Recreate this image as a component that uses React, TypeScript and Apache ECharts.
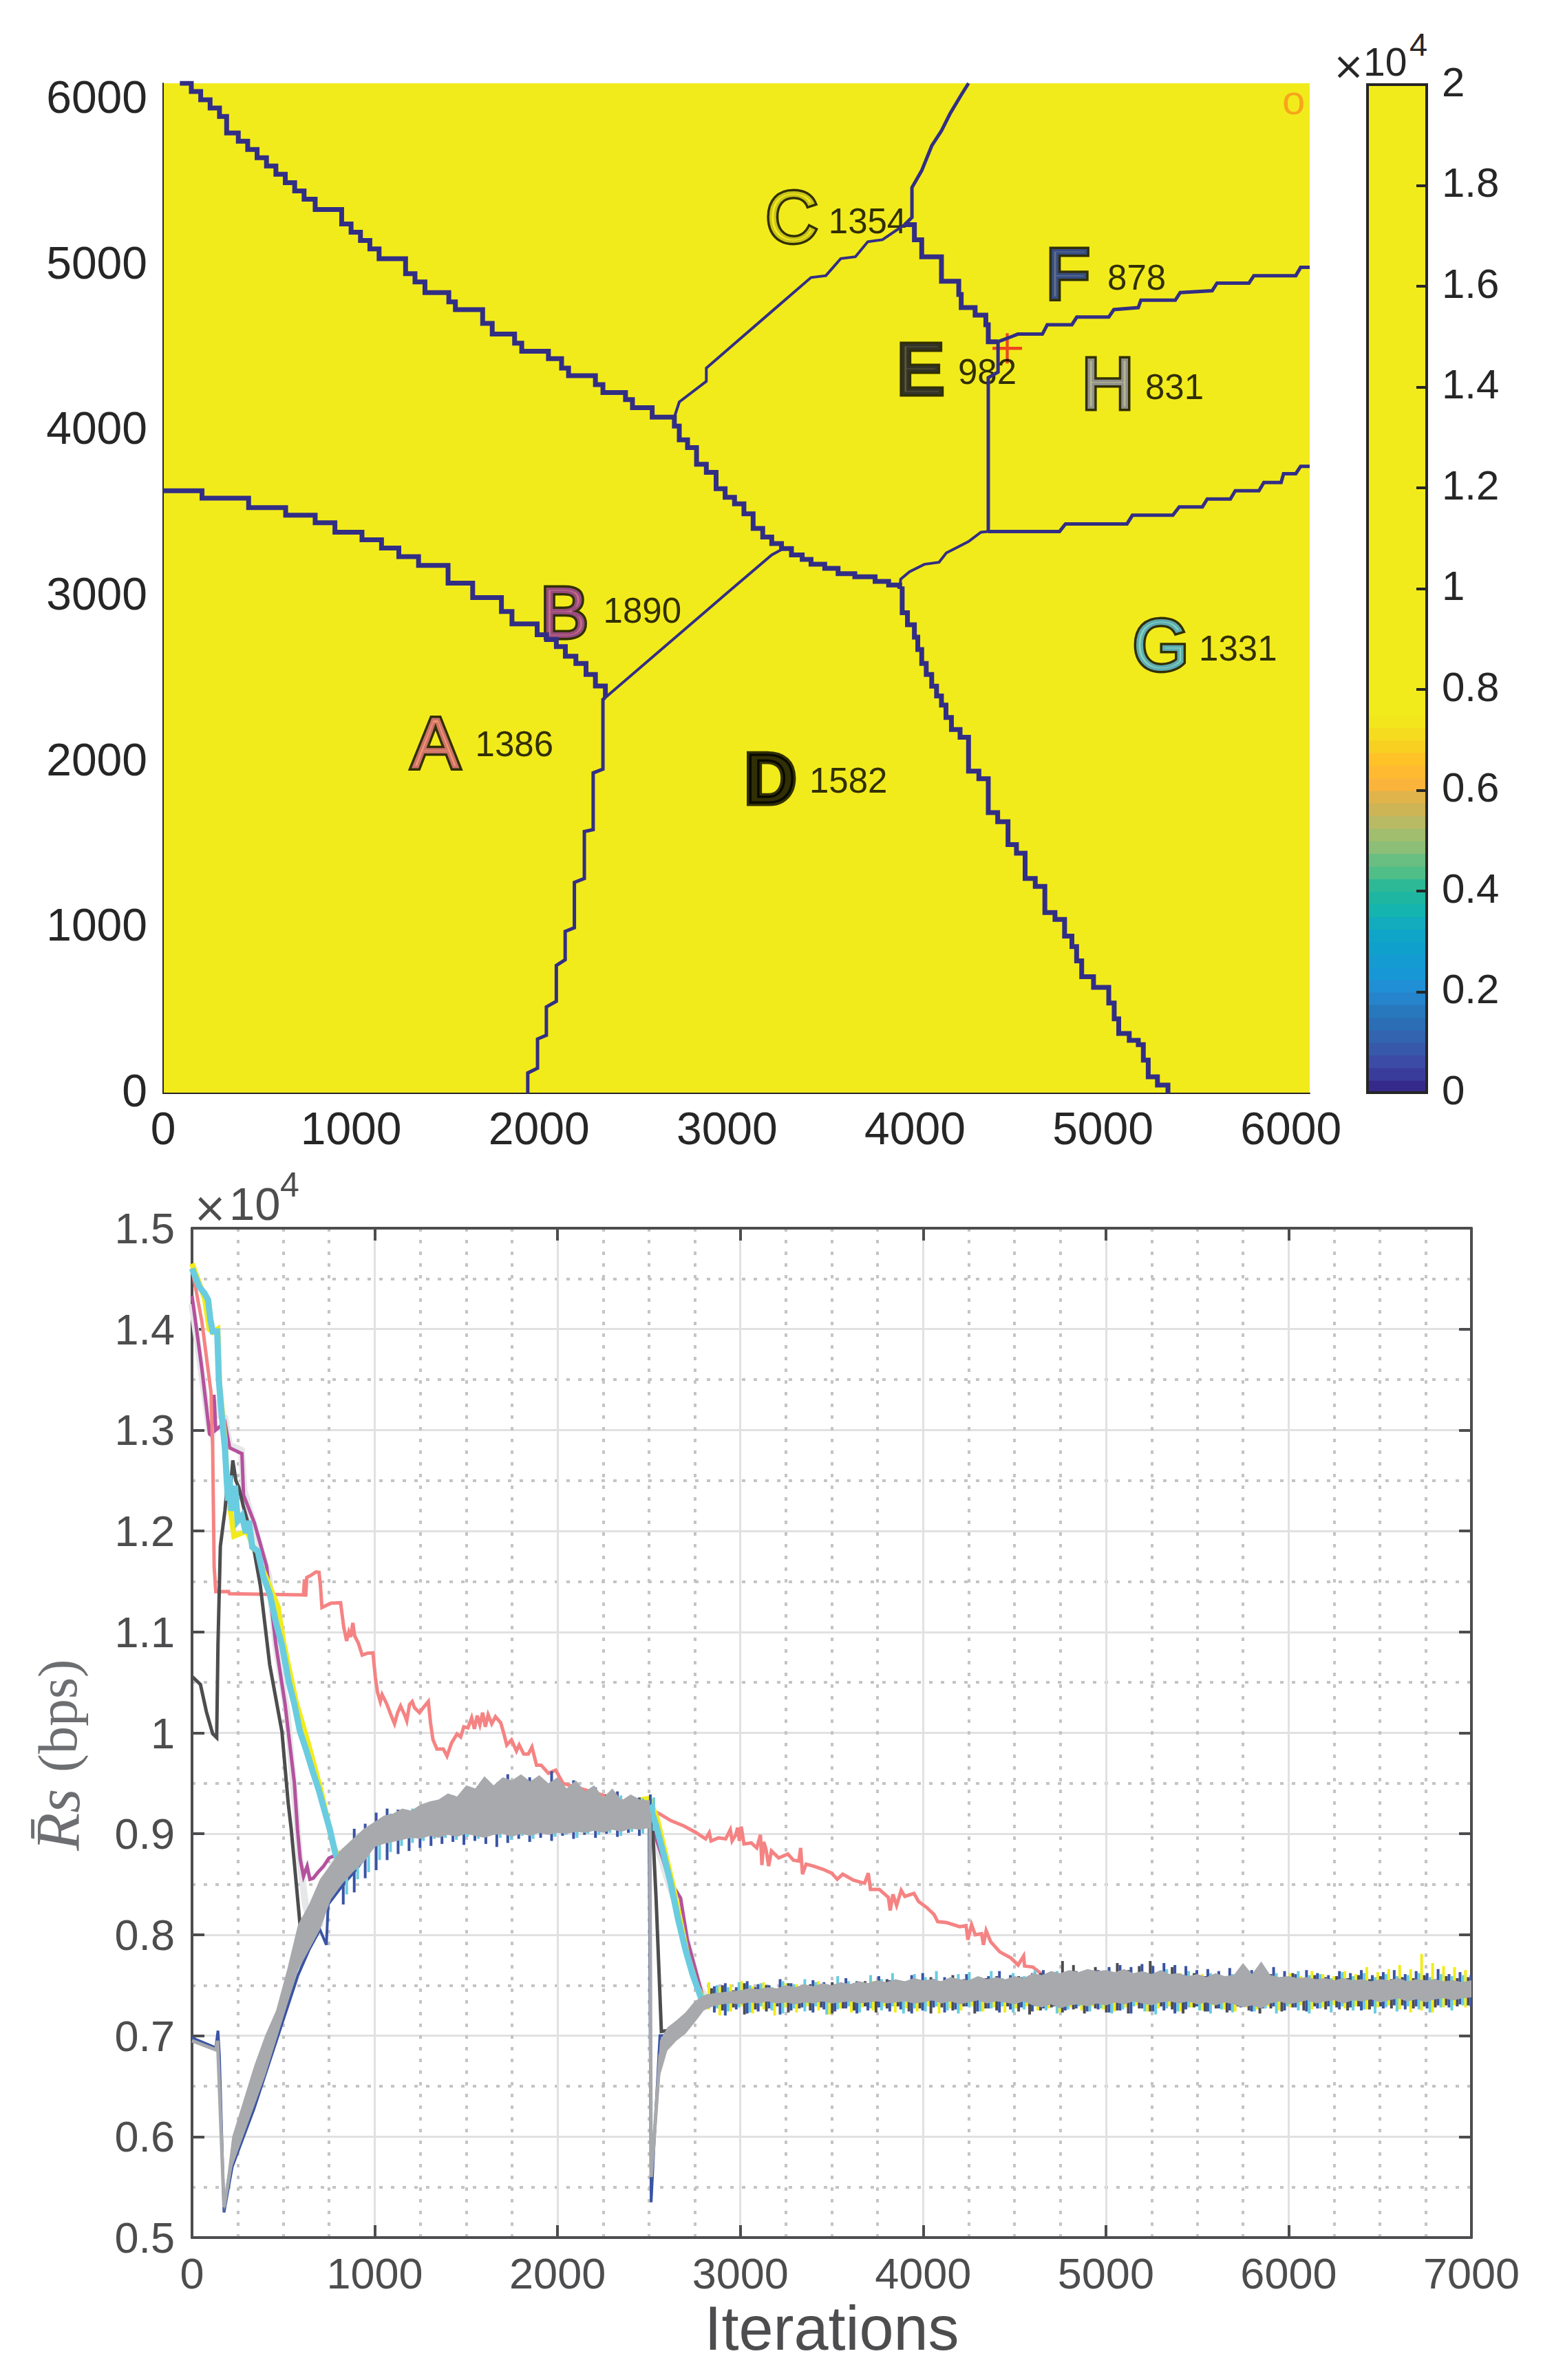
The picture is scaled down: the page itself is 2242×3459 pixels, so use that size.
import React, { useEffect, useRef } from "react";
import * as echarts from "echarts";

const FONT = "Liberation Sans";

const boundaryNW = [[89,6100],[150,6050],[200,6000],[250,5950],[300,5900],[338,5850],[338,5800],[400,5750],[450,5700],[500,5650],[550,5600],[600,5550],[650,5500],[700,5450],[750,5400],[809,5338],[888,5338],[950,5250],[1000,5200],[1050,5150],[1100,5100],[1149,5040],[1240,5040],[1290,4950],[1340,4900],[1393,4836],[1480,4836],[1520,4780],[1555,4733],[1640,4733],[1700,4650],[1751,4585],[1830,4585],[1870,4530],[1908,4482],[2000,4482],[2050,4437],[2092,4437],[2120,4380],[2157,4334],[2260,4334],[2300,4280],[2340,4232],[2420,4232],[2460,4190],[2497,4141],[2602,4141],[2602,4084],[2720,4084],[2720,4030],[2746,3947],[2790,3900],[2838,3799],[2890,3750],[2942,3651],[2990,3600],[3040,3560],[3090,3500],[3139,3411],[3190,3360],[3238,3320],[3290,3290],[3343,3252],[3400,3225],[3447,3195],[3520,3170],[3591,3138],[3680,3120],[3788,3092],[3860,3070],[3919,3047]];
const boundaryDG = [[3919,3047],[3932,3029],[3932,2903],[3960,2830],[3997,2755],[4015,2680],[4036,2596],[4060,2530],[4089,2459],[4115,2400],[4141,2345],[4165,2270],[4194,2197],[4240,2150],[4285,2094],[4285,1946],[4340,1900],[4390,1844],[4390,1770],[4390,1695],[4440,1640],[4495,1593],[4495,1502],[4540,1450],[4586,1399],[4586,1297],[4640,1250],[4691,1206],[4691,1092],[4745,1050],[4796,1000],[4796,950],[4835,886],[4860,800],[4887,704],[4950,640],[5031,545],[5060,450],[5084,362],[5140,320],[5188,294],[5215,200],[5241,100],[5290,50],[5346,0]];
const boundaryAB = [[0,3639],[181,3639],[207,3594],[416,3594],[455,3537],[613,3537],[652,3491],[796,3491],[809,3446],[888,3446],[914,3389],[1045,3389],[1058,3343],[1149,3343],[1162,3293],[1240,3293],[1254,3241],[1346,3241],[1359,3188],[1450,3188],[1516,3081],[1607,3081],[1647,2994],[1751,2994],[1800,2910],[1856,2835],[1934,2835],[1990,2770],[2040,2740],[2092,2698],[2140,2640],[2196,2596],[2250,2530],[2300,2460],[2353,2390]];
const boundaryCE = [[3945,5246],[3997,5155],[4036,5052],[4141,4961],[4141,4904],[4233,4824],[4246,4745],[4320,4700],[4377,4642],[4390,4539],[4442,4539]];
const boundaryAD = [[2353,2390],[2340,2379],[2340,1958],[2288,1935],[2288,1593],[2241,1581],[2241,1297],[2188,1274],[2188,1000],[2139,978],[2139,807],[2092,772],[2092,556],[2039,522],[2039,351],[1992,328],[1992,152],[1940,123],[1940,0]];
const boundaryBD = [[2353,2390],[3008,3029],[3238,3252],[3300,3290]];
const boundaryBC = [[2720,4084],[2746,4175],[2890,4300],[2890,4380],[3238,4722],[3447,4927],[3526,4938],[3605,5041],[3683,5052],[3749,5143],[3827,5155],[3945,5246]];
const boundaryCF = [[3945,5246],[3984,5290],[3984,5470],[4036,5573],[4089,5722],[4141,5813],[4186,5915],[4246,6029],[4285,6100]];
const boundaryFH = [[4442,4539],[4521,4573],[4547,4585],[4678,4585],[4704,4642],[4835,4642],[4861,4688],[5031,4688],[5058,4733],[5188,4745],[5202,4790],[5385,4790],[5411,4836],[5581,4847],[5607,4893],[5777,4893],[5803,4938],[6026,4938],[6052,4988],[6100,4988]];
const boundaryEH = [[4442,4539],[4442,4356],[4390,4322],[4390,3393]];
const boundaryHG = [[4390,3393],[4769,3393],[4801,3439],[5128,3439],[5157,3491],[5372,3491],[5406,3541],[5529,3541],[5555,3589],[5678,3589],[5704,3639],[5830,3639],[5856,3689],[5948,3689],[5961,3742],[6026,3742],[6052,3787],[6100,3787]];
const boundaryEG = [[4390,3393],[4351,3389],[4285,3332],[4207,3287],[4167,3264],[4128,3207],[4050,3195],[3971,3150],[3924,3105],[3919,3047]];
const steppedBoundaries = [boundaryNW, boundaryDG, boundaryAB, boundaryCE];
const mediumBoundaries = [boundaryAD, boundaryCF, boundaryFH, boundaryEH, boundaryHG];
const thinBoundaries = [boundaryBD, boundaryBC, boundaryEG];

const siteNames = ["A", "B", "C", "D", "E", "F", "G", "H"];
const siteX = [1449, 2135, 3344, 3231, 4029, 4813, 5308, 5026];
const siteY = [2119, 2904, 5292, 1899, 4375, 4948, 2709, 4287];
const siteColors = ["#F58383", "#B5519E", "#F2EB1C", "#000000", "#333333", "#3A54A4", "#6ACCE0", "#A7A9AC"];
const loadText = ["1386", "1890", "1354", "1582", "982", "878", "1331", "831"];
const loadX = [1659, 2340, 3538, 3436, 4227, 5022, 5509, 5223];
const loadY = [2107, 2916, 5268, 1890, 4358, 4927, 2688, 4266];
const userPos = [4491, 4499];
const originPos = [6015, 6000];

const colorbarLow = [0,0.025,0.05,0.075,0.1,0.125,0.15,0.175,0.2,0.225,0.25,0.275,0.3,0.325,0.35,0.375,0.4,0.425,0.45,0.475,0.5,0.525,0.55,0.575,0.6,0.625,0.65,0.675,0.7,0.725,0.75];
const colorbarHigh = [0.025,0.05,0.075,0.1,0.125,0.15,0.175,0.2,0.225,0.25,0.275,0.3,0.325,0.35,0.375,0.4,0.425,0.45,0.475,0.5,0.525,0.55,0.575,0.6,0.625,0.65,0.675,0.7,0.725,0.75,2];
const colorbarColors = ["#35298A","#3A3C9C","#3C4BA5","#3858A9","#3264AF","#2C6EB6","#2878BE","#2584CB","#218FD5","#1897D6","#139BD2","#10A0CC","#0FA5C8","#12ACBE","#14B4AF","#1EB6A0","#2DB996","#50BE87","#69BE82","#8CBE78","#A0BE6E","#B9BA64","#CDB455","#E1B44B","#FAB43C","#FFBA32","#FFC328","#F8D022","#F5DC1E","#F2E61C","#F2EB1C"];

const seriesA = [[0,14600],[54,14074],[104,13371],[113,12824],[121,11650],[130,11399],[200,11400],[205,11379],[610,11367],[615,11520],[622,11350],[628,11540],[650,11560],[678,11594],[695,11590],[703,11450],[711,11242],[760,11285],[813,11289],[830,11050],[846,10910],[858,11000],[868,10950],[880,11090],[890,10960],[910,10890],[931,10770],[960,10790],[990,10793],[1003,10550],[1015,10402],[1030,10310],[1040,10380],[1066,10285],[1090,10170],[1108,10090],[1125,10200],[1141,10266],[1165,10170],[1175,10120],[1190,10280],[1205,10310],[1217,10250],[1245,10200],[1270,10260],[1293,10310],[1305,10100],[1318,9934],[1340,9840],[1375,9840],[1395,9770],[1420,9900],[1450,9990],[1470,9960],[1487,10060],[1510,10050],[1530,10150],[1545,10040],[1560,10170],[1575,10080],[1590,10200],[1605,10060],[1620,10180],[1640,10090],[1660,10160],[1689,10100],[1705,10000],[1722,9880],[1748,9930],[1775,9820],[1790,9880],[1815,9790],[1840,9790],[1860,9860],[1885,9680],[1910,9680],[1950,9600],[1990,9630],[2030,9500],[2500,9250],[2558,9198],[2620,9130],[2693,9076],[2760,9010],[2810,8950],[2830,9010],[2840,8930],[2880,8960],[2920,8950],[2945,9040],[2955,8930],[2975,8990],[2985,9060],[2995,8930],[3005,9070],[3020,8900],[3060,8910],[3090,8860],[3110,8990],[3118,8690],[3128,8920],[3140,8850],[3155,8680],[3170,8830],[3210,8760],[3260,8800],[3290,8740],[3320,8730],[3330,8860],[3340,8600],[3360,8700],[3400,8680],[3450,8650],[3500,8610],[3530,8550],[3560,8600],[3620,8540],[3680,8510],[3700,8610],[3712,8450],[3760,8450],[3810,8370],[3820,8240],[3835,8400],[3855,8290],[3880,8440],[3900,8380],[3950,8410],[3975,8330],[4020,8270],[4060,8200],[4080,8130],[4130,8120],[4200,8080],[4235,8090],[4245,7950],[4265,8100],[4285,8000],[4320,8010],[4330,7900],[4345,8040],[4370,7930],[4420,7830],[4480,7770],[4520,7700],[4550,7790],[4555,7690],[4600,7680],[4650,7610],[4700,7550],[7000,7500]];
const seriesB = [[0,14330],[54,13605],[96,12961],[105,12950],[120,13350],[130,13000],[180,13078],[206,12824],[273,12766],[282,12356],[341,12082],[408,11652],[459,10871],[509,10285],[560,9504],[577,9043],[592,8750],[610,8580],[630,8680],[645,8550],[663,8560],[690,8620],[720,8680],[749,8760],[800,8800],[1000,8980],[1500,9150],[2000,9200],[2500,9200],[2520,9059],[2577,8746],[2610,8550],[2673,8363],[2710,7950],[2800,7350],[7000,7450]];
const seriesC = [[0,14650],[30,14500],[70,14300],[95,14000],[113,13970],[140,14000],[150,13450],[180,12900],[195,12350],[215,12150],[230,11950],[300,12000],[425,11450],[470,11250],[500,10900],[570,10300],[635,9900],[705,9430],[770,8900],[810,8720],[1000,8980],[1500,9150],[2000,9200],[2500,9350],[2545,9150],[2590,8800],[2630,8500],[2670,8150],[2710,7800],[2760,7500],[2800,7350],[7000,7450]];
const seriesD = [[0,10559],[46,10481],[79,10207],[113,9992],[135,9953],[142,10871],[155,11848],[180,12200],[195,12500],[205,12300],[223,12700],[240,12500],[256,12434],[280,12250],[324,11965],[374,11457],[425,10676],[492,10012],[526,9309],[543,9043],[591,8100],[640,8050],[700,8250],[760,8500],[1000,8950],[1500,9150],[2000,9200],[2500,9200],[2520,9059],[2539,8363],[2568,7042],[2600,7050],[2800,7350],[7000,7450]];
const seriesE = [[0,14250],[50,13600],[96,13000],[110,12950],[125,13300],[140,13150],[180,13120],[205,12850],[270,12800],[285,12400],[340,12050],[420,11550],[460,10850],[520,10200],[570,9200],[590,8750],[620,8300],[660,8050],[700,8100],[750,8600],[800,8800],[1000,8980],[1500,9150],[2000,9200],[2500,9200],[2550,8850],[2610,8500],[2680,8150],[2720,7850],[2770,7500],[2810,7380],[7000,7450]];
const seriesF = [[0,6980],[130,6880],[142,7050],[150,6800],[175,5250],[220,5700],[340,6280],[460,6940],[580,7600],[640,7850],[700,8050],[735,7900],[745,8300],[820,8480],[900,8650],[1000,8900],[1500,9100],[2000,9150],[2500,9200],[2512,5350],[2530,6000],[2560,7000],[2600,7000],[2700,7200],[2800,7350],[7000,7450]];
const seriesG = [[0,14600],[40,14420],[70,14350],[88,14290],[100,14100],[113,13977],[138,13977],[147,13488],[165,13100],[180,12824],[190,12500],[197,12300],[205,12550],[215,12200],[235,12450],[250,12100],[273,12150],[295,11980],[310,12100],[330,11840],[360,11800],[390,11550],[425,11379],[460,11090],[492,10871],[530,10500],[560,10285],[590,10020],[627,9817],[660,9620],[695,9426],[725,9230],[754,9043],[785,8800],[810,8700],[1000,8950],[1500,9150],[2000,9200],[2480,9200],[2510,9250],[2540,9080],[2580,8800],[2620,8500],[2660,8150],[2700,7850],[2740,7600],[2790,7350],[2820,7380],[7000,7450]];
const seriesH = [[0,6950],[130,6860],[140,6950],[175,5300],[220,5800],[300,6200],[460,7100],[580,7800],[760,8500],[1000,8950],[2000,9250],[2505,9200],[2512,5600],[2525,5900],[2560,6800],[2600,7000],[2700,7150],[2800,7350],[7000,7450]];

const bandIter1 = [175,220,280,340,400,460,520,580,640,700,760,820,880,940,1000,1050,1100,1150,1200,1250,1300,1350,1400,1450,1500,1550,1600,1650,1700,1750,1800,1850,1900,1950,2000,2050,2100,2150,2200,2250,2300,2350,2400,2450,2505];
const bandHi1 = [5350,6000,6350,6700,7000,7250,7650,8100,8300,8550,8700,8850,8950,9050,9120,9180,9200,9250,9230,9290,9320,9340,9400,9370,9480,9450,9570,9480,9560,9530,9590,9520,9580,9500,9560,9450,9530,9420,9480,9360,9450,9330,9390,9340,9330];
const bandLo1 = [5250,5700,6000,6300,6600,6950,7300,7650,7850,8050,8350,8500,8620,8720,8870,8900,8920,8940,8960,8950,8980,8960,8990,8970,9000,8980,8960,8990,9000,8970,9000,8980,9010,8990,9010,9000,9020,9010,9030,9010,9040,9020,9050,9040,9060];
const bandIter2 = [2530,2560,2600,2650,2700,2750,2800,2850,2900,2950,3000,3050,3100,3150,3200,3250,3300,3350,3400,3450,3500,3550,3600,3650,3700,3750,3800,3850,3900,3950,4000,4050,4100,4150,4200,4250,4300,4350,4400,4450,4500,4550,4600,4650,4700,4750,4800,4850,4900,4950,5000,5050,5100,5150,5200,5250,5300,5350,5400,5450,5500,5550,5600,5650,5700,5750,5800,5850,5900,5950,6000,6050,6100,6150,6200,6250,6300,6350,6400,6450,6500,6550,6600,6650,6700,6750,6800,6850,6900,6950,7000];
const bandHi2 = [6100,6950,7080,7150,7230,7340,7400,7420,7430,7440,7450,7470,7460,7480,7470,7500,7480,7510,7490,7520,7500,7530,7510,7540,7520,7550,7530,7560,7540,7570,7550,7560,7540,7580,7560,7550,7590,7560,7580,7560,7590,7570,7620,7600,7640,7620,7650,7630,7660,7640,7650,7630,7660,7620,7640,7610,7650,7610,7620,7590,7610,7580,7620,7590,7600,7720,7610,7735,7600,7580,7590,7570,7580,7560,7570,7550,7570,7550,7560,7540,7560,7550,7570,7540,7560,7550,7560,7540,7550,7530,7550];
const bandLo2 = [5800,6600,6850,6950,7020,7130,7250,7290,7310,7320,7310,7330,7320,7340,7320,7330,7310,7330,7320,7340,7320,7330,7340,7320,7330,7340,7320,7330,7340,7320,7330,7350,7320,7340,7310,7330,7350,7320,7340,7330,7310,7340,7300,7280,7310,7270,7300,7310,7290,7320,7300,7330,7310,7340,7320,7300,7330,7340,7320,7340,7310,7330,7300,7330,7310,7280,7300,7270,7320,7340,7310,7330,7350,7320,7340,7350,7320,7350,7340,7360,7330,7350,7370,7340,7360,7330,7360,7370,7350,7370,7380];

const spikeIter1 = [820,880,940,1000,1060,1120,1180,1240,1300,1360,1420,1480,1540,1600,1660,1720,1780,1840,1900,1960,2020,2080,2140,2200,2260,2320,2380,2440,2500];
const blueHi1 = [8820,9050,9100,9210,9250,9240,9180,9200,9320,9300,9380,9330,9410,9420,9480,9590,9470,9560,9520,9620,9480,9530,9420,9460,9390,9420,9350,9360,9390];
const blueLo1 = [8300,8420,8560,8640,8740,8800,8830,8860,8880,8900,8920,8890,8930,8900,8870,8910,8950,8920,8960,8930,8980,8950,8990,8960,9000,8970,9010,8980,9020];
const cyanHi1 = [8780,8930,9030,9100,9200,9230,9250,9290,9310,9360,9340,9420,9400,9470,9430,9500,9440,9490,9420,9470,9400,9440,9360,9400,9340,9380,9340,9350,9360];
const cyanLo1 = [8400,8550,8620,8740,8820,8880,8910,8930,8950,8960,8940,8970,8950,8980,8960,8940,8980,8950,9000,8970,8990,8960,9000,8990,9010,8980,9020,9000,9030];

const spikeIter2 = [2820,2880,2940,3000,3060,3120,3180,3240,3300,3360,3420,3480,3540,3600,3660,3720,3780,3840,3900,3960,4020,4080,4140,4200,4260,4320,4380,4440,4500,4560,4620,4680,4740,4800,4860,4920,4980,5040,5100,5160,5220,5280,5340,5400,5460,5520,5580,5640,5700,5760,5820,5880,5940,6000,6060,6120,6180,6240,6300,6360,6420,6480,6540,6600,6660,6720,6780,6840,6900,6960];
const blueHi2 = [7490,7520,7480,7540,7510,7500,7560,7520,7490,7550,7530,7510,7570,7540,7520,7590,7550,7530,7600,7620,7560,7580,7550,7610,7570,7590,7640,7600,7580,7620,7650,7590,7610,7640,7600,7650,7680,7700,7680,7710,7690,7720,7700,7690,7650,7660,7640,7670,7630,7650,7620,7680,7640,7610,7650,7620,7600,7640,7620,7650,7600,7630,7650,7610,7640,7620,7660,7610,7630,7600];
const blueLo2 = [7230,7200,7260,7220,7240,7270,7210,7250,7280,7230,7260,7240,7270,7220,7250,7280,7240,7260,7220,7250,7280,7230,7260,7290,7240,7270,7230,7260,7280,7240,7270,7290,7250,7270,7240,7260,7230,7250,7220,7270,7240,7250,7220,7260,7290,7240,7270,7250,7280,7240,7270,7290,7250,7280,7240,7270,7290,7260,7280,7250,7290,7270,7300,7260,7290,7270,7300,7280,7310,7290];
const cyanHi2 = [7500,7480,7530,7500,7520,7480,7540,7510,7560,7530,7510,7590,7540,7520,7600,7560,7620,7540,7610,7580,7640,7550,7610,7630,7580,7640,7570,7620,7590,7650,7590,7640,7600,7620,7580,7640,7610,7650,7590,7630,7610,7660,7600,7640,7590,7620,7570,7610,7590,7630,7570,7620,7580,7640,7600,7610,7570,7630,7590,7620,7580,7610,7590,7600,7620,7580,7610,7590,7600,7580];
const cyanLo2 = [7270,7240,7280,7230,7290,7250,7220,7270,7240,7290,7210,7260,7290,7230,7270,7250,7290,7220,7270,7240,7290,7250,7220,7280,7240,7270,7290,7230,7260,7290,7250,7220,7260,7290,7240,7270,7220,7260,7290,7240,7210,7270,7240,7280,7250,7220,7260,7230,7290,7240,7270,7220,7290,7250,7220,7270,7230,7290,7250,7260,7220,7280,7240,7290,7260,7230,7280,7250,7300,7270];
const darkHi2 = [7470,7500,7450,7520,7480,7500,7460,7520,7480,7510,7500,7530,7490,7520,7540,7510,7560,7530,7520,7550,7580,7540,7600,7560,7540,7570,7590,7550,7590,7570,7620,7590,7740,7700,7640,7680,7620,7720,7650,7690,7740,7630,7680,7600,7620,7590,7610,7580,7600,7570,7590,7610,7580,7620,7570,7600,7580,7590,7570,7600,7560,7590,7560,7580,7570,7600,7560,7590,7570,7580];
const darkLo2 = [7290,7250,7280,7210,7260,7240,7290,7230,7270,7250,7280,7220,7270,7250,7290,7230,7270,7290,7240,7270,7220,7280,7250,7290,7220,7270,7250,7290,7240,7210,7250,7280,7230,7260,7220,7270,7230,7250,7220,7270,7240,7290,7260,7220,7280,7240,7270,7230,7290,7250,7220,7270,7240,7280,7250,7290,7260,7280,7250,7290,7260,7290,7270,7300,7270,7290,7280,7300,7290,7300];
const yellowHi2 = [7530,7480,7510,7540,7490,7530,7470,7520,7510,7490,7540,7500,7520,7490,7510,7540,7500,7530,7490,7520,7510,7540,7490,7530,7510,7560,7520,7500,7540,7510,7560,7530,7510,7550,7520,7500,7560,7530,7510,7560,7580,7540,7570,7620,7550,7610,7560,7590,7570,7620,7580,7600,7550,7620,7590,7640,7610,7590,7640,7610,7680,7630,7660,7700,7660,7810,7720,7690,7680,7650];
const yellowLo2 = [7260,7200,7240,7290,7220,7260,7200,7280,7230,7290,7250,7210,7270,7230,7280,7250,7290,7230,7270,7240,7290,7220,7270,7250,7290,7240,7280,7230,7270,7290,7250,7270,7230,7280,7250,7290,7260,7240,7280,7300,7240,7270,7290,7240,7280,7250,7300,7260,7240,7280,7260,7290,7250,7280,7300,7260,7280,7300,7270,7290,7260,7280,7300,7260,7230,7250,7230,7280,7300,7280];

const C_PINK = "#F58383", C_MAG = "#B5519E", C_YEL = "#F2EB1C", C_DARK = "#4D4D4F", C_LIGHT = "#E6E7E8", C_BLUE = "#3A54A4", C_CYAN = "#6ACCE0", C_GRAY = "#A7A9AC";
const AXIS_DARK = "#262626", AXIS_GRAY = "#4D4D4F";

function line(name: string, data: number[][], color: string, width: number, axisIdx: number, step: any = false) {
  return { type: "line", name, data, step, xAxisIndex: axisIdx, yAxisIndex: axisIdx, showSymbol: false, symbol: "none", silent: true, lineStyle: { color, width, join: "miter" }, itemStyle: { color } };
}
function polygon(name: string, color: string, iter: number[], hi: number[], lo: number[]) {
  return {
    type: "custom", name, xAxisIndex: 2, yAxisIndex: 2, silent: true, clip: true,
    data: iter.map((x, i) => [x, hi[i], lo[i]]), encode: { x: 0, y: 1 },
    renderItem: (p: any, api: any) => {
      if (p.dataIndex !== 0) return null;
      const pts: number[][] = [];
      iter.forEach((x, i) => pts.push(api.coord([x, hi[i]])));
      for (let i = iter.length - 1; i >= 0; i--) pts.push(api.coord([iter[i], lo[i]]));
      return { type: "polygon", shape: { points: pts }, style: { fill: color } };
    },
  };
}
function spikes(name: string, color: string, iter: number[], hi: number[], lo: number[], offset: number) {
  return {
    type: "custom", name, xAxisIndex: 2, yAxisIndex: 2, silent: true, clip: true,
    data: iter.map((x, i) => [x, hi[i], lo[i]]), encode: { x: 0, y: 1 },
    renderItem: (_p: any, api: any) => {
      const a = api.coord([api.value(0), api.value(1)]);
      const b = api.coord([api.value(0), api.value(2)]);
      return { type: "rect", shape: { x: a[0] + offset, y: a[1], width: 4, height: b[1] - a[1] }, style: { fill: color } };
    },
  };
}

function buildOption() {
  const mapAxis = (max: number) => ({
    type: "value", gridIndex: 0, min: 0, max, interval: 1000,
    axisLine: { show: true, onZero: false, lineStyle: { color: AXIS_DARK, width: 2 } },
    axisTick: { show: false }, splitLine: { show: false },
    axisLabel: { color: AXIS_DARK, fontSize: 66, fontFamily: FONT, showMaxLabel: false, formatter: (v: number) => String(v) },
  });
  const lowX = {
    type: "value", min: 0, max: 7000, interval: 1000, gridIndex: 2,
    axisLine: { show: true, onZero: false, lineStyle: { color: AXIS_GRAY, width: 4 } },
    axisTick: { show: true, inside: true, length: 18, lineStyle: { color: AXIS_GRAY, width: 4 } },
    splitLine: { show: true, lineStyle: { color: "#E1E1E3", width: 3 } },
    minorTick: { show: false, splitNumber: 4 },
    minorSplitLine: { show: true, lineStyle: { color: "#C4C4C6", width: 4, type: [5, 12] } },
  };
  const lowY = {
    type: "value", min: 5000, max: 15000, interval: 1000, gridIndex: 2,
    axisLine: { show: true, onZero: false, lineStyle: { color: AXIS_GRAY, width: 4 } },
    axisTick: { show: true, inside: true, length: 18, lineStyle: { color: AXIS_GRAY, width: 4 } },
    splitLine: { show: true, lineStyle: { color: "#E1E1E3", width: 3 } },
    minorTick: { show: false, splitNumber: 2 },
    minorSplitLine: { show: true, lineStyle: { color: "#C4C4C6", width: 4, type: [5, 12] } },
  };
  const series: any[] = [];
  steppedBoundaries.forEach((b, i) => series.push(line("stepped" + i, b, "#322E85", 7, 0, "end")));
  mediumBoundaries.forEach((b, i) => series.push(line("medium" + i, b, "#322E85", 5, 0)));
  thinBoundaries.forEach((b, i) => series.push(line("thin" + i, b, "#322E85", 4, 0)));
  series.push({
    type: "scatter", name: "sites", xAxisIndex: 0, yAxisIndex: 0, silent: true, symbolSize: 1, itemStyle: { color: "transparent" },
    data: siteNames.map((n, i) => ({
      value: [siteX[i], siteY[i]],
      label: { show: true, position: "inside", formatter: n, fontSize: 105, fontFamily: FONT, color: siteColors[i], textBorderColor: "#000", textBorderWidth: 7, fontWeight: n === "D" ? "bold" : "normal" },
    })),
  });
  series.push({
    type: "scatter", name: "loads", xAxisIndex: 0, yAxisIndex: 0, silent: true, symbolSize: 1, itemStyle: { color: "transparent" },
    data: loadText.map((n, i) => ({
      value: [loadX[i], loadY[i]],
      label: { show: true, position: "right", distance: 0, formatter: n, fontSize: 51, fontFamily: FONT, color: "#000" },
    })),
  });
  series.push({
    type: "scatter", name: "user", xAxisIndex: 0, yAxisIndex: 0, silent: true, symbol: "path://M9,0h2v9h9v2h-9v9h-2v-9H0V9h9z", symbolSize: [43, 44], itemStyle: { color: "#ED1C24" }, data: [userPos],
  });
  series.push({
    type: "scatter", name: "origin", xAxisIndex: 0, yAxisIndex: 0, silent: true, symbolSize: 1, itemStyle: { color: "transparent" },
    data: [{ value: originPos, label: { show: true, position: "inside", formatter: "o", fontSize: 60, fontFamily: FONT, color: "#F7941D" } }],
  });
  series.push({
    type: "custom", name: "colorbar", xAxisIndex: 1, yAxisIndex: 1, silent: true, z: 1,
    data: colorbarLow.map((l, i) => [0, l, colorbarHigh[i]]), encode: { x: 0, y: 1 },
    renderItem: (p: any, api: any) => {
      const lo = api.coord([0, api.value(1)]);
      const hi = api.coord([1, api.value(2)]);
      return { type: "rect", shape: { x: lo[0], y: hi[1], width: hi[0] - lo[0], height: lo[1] - hi[1] + 1 }, style: { fill: colorbarColors[p.dataIndex] } };
    },
  });
  const lower: any[] = [
    line("E", seriesE, C_LIGHT, 10, 2),
    line("B", seriesB, C_MAG, 5, 2),
    line("A", seriesA, C_PINK, 5, 2),
    spikes("yellow noise", C_YEL, spikeIter2, yellowHi2, yellowLo2, 0),
    line("C", seriesC, C_YEL, 8, 2),
    spikes("dark noise", C_DARK, spikeIter2, darkHi2, darkLo2, 4),
    line("D", seriesD, C_DARK, 5, 2),
    spikes("blue noise", C_BLUE, spikeIter2, blueHi2, blueLo2, 8),
    spikes("blue noise 1", C_BLUE, spikeIter1, blueHi1, blueLo1, 0),
    line("F", seriesF, C_BLUE, 4, 2),
    spikes("cyan noise", C_CYAN, spikeIter2, cyanHi2, cyanLo2, 12),
    spikes("cyan noise 1", C_CYAN, spikeIter1, cyanHi1, cyanLo1, 5),
    line("G", seriesG, C_CYAN, 9, 2),
    line("H", seriesH, C_GRAY, 5, 2),
    polygon("H band 1", C_GRAY, bandIter1, bandHi1, bandLo1),
    polygon("H band 2", C_GRAY, bandIter2, bandHi2, bandLo2),
  ];
  lower.forEach((s, i) => { s.z = 2 + i; series.push(s); });

  return {
    animation: false,
    backgroundColor: "#fff",
    textStyle: { fontFamily: FONT },
    grid: [
      { left: 237, top: 121, width: 1666, height: 1468, show: true, backgroundColor: "#F2EB1C", borderWidth: 0, outerBoundsMode: "none" },
      { left: 1987, top: 123, width: 86, height: 1465, outerBoundsMode: "none" },
      { left: 279, top: 1785, width: 1859, height: 1467, outerBoundsMode: "none" },
    ],
    xAxis: [
      { ...mapAxis(6100), axisLabel: { ...mapAxis(6100).axisLabel, margin: 18 } },
      { type: "value", gridIndex: 1, min: 0, max: 1, show: false },
      { ...lowX, axisLabel: { color: AXIS_GRAY, fontSize: 63, fontFamily: FONT, margin: 20, formatter: (v: number) => String(v) }, name: "Iterations", nameLocation: "middle", nameGap: 87, nameTextStyle: { color: AXIS_GRAY, fontSize: 90, fontFamily: FONT } },
      { ...lowX, position: "top", axisLabel: { show: false }, splitLine: { show: false }, minorSplitLine: { show: false } },
    ],
    yAxis: [
      { ...mapAxis(6100), axisLabel: { ...mapAxis(6100).axisLabel, margin: 23, verticalAlign: "bottom", lineHeight: 8 } },
      {
        type: "value", gridIndex: 1, min: 0, max: 2, interval: 0.2, position: "right", z: 3,
        axisLine: { show: false, onZero: false }, splitLine: { show: false },
        axisTick: { show: true, inside: true, length: 15, lineStyle: { color: AXIS_DARK, width: 4 } },
        axisLabel: { color: AXIS_DARK, fontSize: 60, fontFamily: FONT, margin: 22, verticalAlign: "bottom", lineHeight: 8, formatter: (v: number) => String(Math.round(v * 10) / 10) },
      },
      {
        ...lowY,
        axisLabel: { color: AXIS_GRAY, fontSize: 63, fontFamily: FONT, margin: 25, formatter: (v: number) => String(Math.round(v / 1000) / 10) },
        name: "{a|R\u0304s}{c| }{b|(bps)}", nameLocation: "middle", nameRotate: 90, nameGap: 150,
        nameTextStyle: { padding: [0, 64, 0, 0], rich: { a: { fontFamily: "Liberation Serif", fontStyle: "italic", fontSize: 90, color: "#6D6E71" }, b: { fontFamily: "Liberation Serif", fontSize: 80, color: "#6D6E71" }, c: { width: 24, fontSize: 40 } } },
      },
      { ...lowY, position: "right", axisLabel: { show: false }, splitLine: { show: false }, minorSplitLine: { show: false } },
    ],
    series,
    graphic: [
      { type: "rect", z: 50, shape: { x: 1987, y: 123, width: 86, height: 1465 }, style: { fill: "none", stroke: AXIS_DARK, lineWidth: 4 } },
      { type: "text", z: 50, x: 1936, y: 67, style: { text: "\u00D7", fontSize: 56, fontFamily: "DejaVu Sans", fill: AXIS_DARK } },
      { type: "text", z: 50, x: 1981, y: 61, style: { text: "10", fontSize: 57, fontFamily: FONT, fill: AXIS_DARK } },
      { type: "text", z: 50, x: 2048, y: 41, style: { text: "4", fontSize: 47, fontFamily: FONT, fill: AXIS_DARK } },
      { type: "text", z: 50, x: 280, y: 1725, style: { text: "\u00D7", fontSize: 60, fontFamily: "DejaVu Sans", fill: AXIS_GRAY } },
      { type: "text", z: 50, x: 333, y: 1716, style: { text: "10", fontSize: 67, fontFamily: FONT, fill: AXIS_GRAY } },
      { type: "text", z: 50, x: 407, y: 1697, style: { text: "4", fontSize: 50, fontFamily: FONT, fill: AXIS_GRAY } },
    ],
  };
}

export default function App() {
  const ref = useRef<HTMLDivElement>(null);
  useEffect(() => {
    document.body.style.margin = "0";
    const chart = echarts.init(ref.current!, undefined, { renderer: "svg" });
    chart.setOption(buildOption() as any);
    return () => chart.dispose();
  }, []);
  return <div ref={ref} style={{ width: 2242, height: 3459 }} />;
}
